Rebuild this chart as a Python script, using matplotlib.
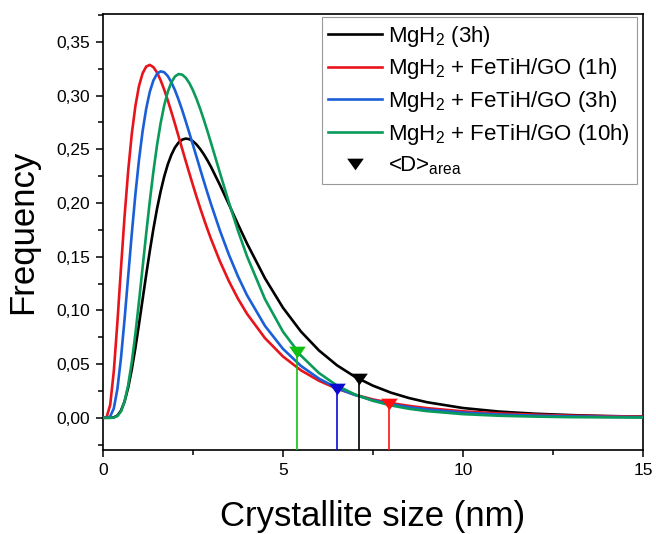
import matplotlib
matplotlib.use("Agg")
import matplotlib.pyplot as plt
from matplotlib.ticker import MultipleLocator, FuncFormatter
from matplotlib.lines import Line2D

plt.rcParams["font.family"] = ["Liberation Sans", "DejaVu Sans"]
plt.rcParams["mathtext.fontset"] = "custom"
plt.rcParams["mathtext.rm"] = "Liberation Sans"
plt.rcParams["mathtext.it"] = "Liberation Sans:italic"

# Crystallite size grid (nm)
size_nm = [0, 0.1, 0.2, 0.3, 0.4, 0.5, 0.6, 0.7, 0.8, 0.9, 1.0, 1.1, 1.2, 1.3,
           1.4, 1.5, 1.6, 1.7, 1.8, 1.9, 2.0, 2.1, 2.2, 2.3, 2.4, 2.5, 2.6,
           2.7, 2.8, 2.9, 3.0, 3.25, 3.5, 3.75, 4.0, 4.5, 5.0, 5.5, 6.0, 6.5,
           7.0, 7.5, 8.0, 8.5, 9.0, 10, 11, 12, 13, 14, 15]

# Size distributions (frequency)
freq_mgh2_3h = [0, 0, 0.0000, 0.0004, 0.0021, 0.0067, 0.0152, 0.0281, 0.0450,
                0.0650, 0.0871, 0.1101, 0.1331, 0.1552, 0.1758, 0.1944, 0.2106,
                0.2245, 0.2359, 0.2449, 0.2517, 0.2563, 0.2590, 0.2600, 0.2594,
                0.2575, 0.2544, 0.2503, 0.2454, 0.2398, 0.2337,
                0.2167, 0.1986, 0.1802, 0.1624, 0.1299, 0.1025, 0.0803, 0.0627,
                0.0489, 0.0382, 0.0299, 0.0234, 0.0184, 0.0145, 0.0091, 0.0058,
                0.0038, 0.0025, 0.0016, 0.0011]
freq_go_1h = [0, 0.0006, 0.0120, 0.0432, 0.0888, 0.1395, 0.1879, 0.2300, 0.2643,
              0.2903, 0.3089, 0.3207, 0.3270, 0.3286, 0.3265, 0.3216, 0.3144,
              0.3056, 0.2956, 0.2848, 0.2736, 0.2620, 0.2504, 0.2389, 0.2276,
              0.2165, 0.2057, 0.1953, 0.1854, 0.1758, 0.1666,
              0.1456, 0.1271, 0.1109, 0.0969, 0.0742, 0.0571, 0.0442, 0.0345,
              0.0271, 0.0215, 0.0171, 0.0137, 0.0111, 0.0090, 0.0060, 0.0041,
              0.0029, 0.0020, 0.0015, 0.0011]
freq_go_3h = [0, 0.0000, 0.0012, 0.0087, 0.0268, 0.0557, 0.0920, 0.1318, 0.1714,
              0.2080, 0.2401, 0.2667, 0.2878, 0.3035, 0.3141, 0.3203, 0.3226,
              0.3218, 0.3182, 0.3124, 0.3050, 0.2962, 0.2865, 0.2760, 0.2651,
              0.2540, 0.2428, 0.2316, 0.2205, 0.2096, 0.1991,
              0.1742, 0.1517, 0.1317, 0.1142, 0.0856, 0.0642, 0.0483, 0.0365,
              0.0277, 0.0212, 0.0163, 0.0126, 0.0098, 0.0077, 0.0048, 0.0030,
              0.0020, 0.0013, 0.0009, 0.0006]
freq_go_10h = [0, 0, 0.0000, 0.0002, 0.0016, 0.0059, 0.0152, 0.0305, 0.0518,
               0.0782, 0.1081, 0.1398, 0.1714, 0.2016, 0.2292, 0.2536, 0.2741,
               0.2908, 0.3035, 0.3124, 0.3178, 0.3201, 0.3195, 0.3166, 0.3116,
               0.3049, 0.2968, 0.2877, 0.2777, 0.2671, 0.2561,
               0.2280, 0.2003, 0.1742, 0.1505, 0.1105, 0.0802, 0.0579, 0.0417,
               0.0300, 0.0217, 0.0158, 0.0115, 0.0084, 0.0062, 0.0034, 0.0019,
               0.0011, 0.0006, 0.0004, 0.0002]

labels = ["MgH$_\\mathregular{2}$ (3h)",
          "MgH$_\\mathregular{2}$ + FeTiH/GO (1h)",
          "MgH$_\\mathregular{2}$ + FeTiH/GO (3h)",
          "MgH$_\\mathregular{2}$ + FeTiH/GO (10h)"]

# Area-weighted mean size <D>area and the frequency there
d_area = [7.11, 7.95, 6.50, 5.40]
freq_at_d_area = [0.036, 0.013, 0.027, 0.061]

curve_colors = ["#000000", "#e8141c", "#1a5fd8", "#0a9a5a"]
marker_colors = ["#000000", "#ff1010", "#0a0ad0", "#10c010"]

fig = plt.figure(figsize=(6.56, 5.34), dpi=100)
ax = fig.add_axes([0.157, 0.1573, 0.823, 0.8165])

series = [freq_mgh2_3h, freq_go_1h, freq_go_3h, freq_go_10h]
for ys, col, lab in zip(series, curve_colors, labels):
    ax.plot(size_nm, ys, color=col, lw=1.9, label=lab, zorder=3,
            solid_joinstyle="round")

ymin, ymax = -0.03, 0.376
tri = [(-1, 0.7), (1, 0.7), (0, -0.7)]
for xd, yd, mc in zip(d_area, freq_at_d_area, marker_colors):
    ax.vlines(xd, ymin, yd, color=mc, lw=1.2, zorder=4)
    ax.plot([xd], [yd], linestyle="none", marker=tri, ms=12, color=mc,
            markeredgewidth=0, zorder=5)

ax.set_xlim(0, 15)
ax.set_ylim(ymin, ymax)
ax.xaxis.set_major_locator(MultipleLocator(5))
ax.xaxis.set_minor_locator(MultipleLocator(2.5))
ax.yaxis.set_major_locator(MultipleLocator(0.05))
ax.yaxis.set_minor_locator(MultipleLocator(0.025))
ax.yaxis.set_major_formatter(FuncFormatter(lambda v, p: f"{v:.2f}".replace(".", ",")))
ax.xaxis.set_major_formatter(FuncFormatter(lambda v, p: f"{v:g}"))
ax.tick_params(which="major", direction="out", length=5, width=1.1,
               labelsize=12.5, pad=4.5)
ax.tick_params(which="minor", direction="out", length=3.5, width=1.1)
ax.tick_params(top=False, right=False)
for sp in ax.spines.values():
    sp.set_linewidth(1.2)

ax.set_xlabel("Crystallite size (nm)", fontsize=25, labelpad=16)
ax.set_ylabel("Frequency", fontsize=25, labelpad=12)

handles, _ = ax.get_legend_handles_labels()
handles.append(Line2D([], [], linestyle="none", marker=tri, ms=12,
                      color="black", markeredgewidth=0))
leg = ax.legend(handles, labels + ["<D>$_\\mathregular{area}$"],
                loc="upper right", bbox_to_anchor=(0.989, 0.993),
                borderaxespad=0, fontsize=16, frameon=True, fancybox=False,
                edgecolor="#808080", handlelength=2.4, handletextpad=0.3,
                labelspacing=0.35, borderpad=0.3)
leg.get_frame().set_linewidth(0.8)

fig.savefig("out.png", dpi=100)
